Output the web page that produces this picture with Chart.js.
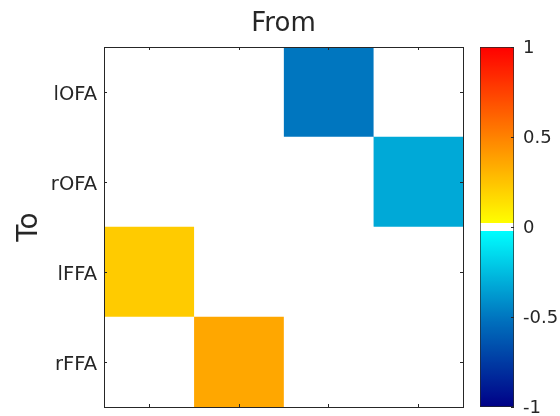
<!DOCTYPE html>
<html>
<head>
<meta charset="utf-8">
<script src="https://cdn.jsdelivr.net/npm/chart.js@4/dist/chart.umd.min.js"></script>
<style>
  html, body { margin: 0; padding: 0; background: #ffffff; }
  #wrap { position: relative; width: 560px; height: 416px; }
  #wrap canvas { position: absolute; left: 0; top: 0; }
</style>
</head>
<body>
<div id="wrap">
  <canvas id="matrix" width="560" height="416"></canvas>
  <canvas id="cbar" width="560" height="416"></canvas>
</div>
<script>
// Regions: rows are targets ("To"), columns are sources ("From"), same order
const regions = ['lOFA', 'rOFA', 'lFFA', 'rFFA'];

// Connection strength into each target region, one entry per source region
const toLOFA = [0, 0, -0.5, 0];
const toROFA = [0, 0, 0, -0.32];
const toLFFA = [0.22, 0, 0, 0];
const toRFFA = [0, 0.36, 0, 0];

const colorTicks = [-1, -0.5, 0, 0.5, 1];
const colorMin = -1;
const colorMax = 1;
const zeroBand = 0.02;   // |value| below this is drawn white

const matrixRows = [toLOFA, toROFA, toLFFA, toRFFA];

const INK = '#262626';
const FONT = 'DejaVu Sans';

function lerp(a, b, t) { return a + (b - a) * t; }
function mix(c1, c2, t) {
  return [0, 1, 2].map(i => Math.round(lerp(c1[i], c2[i], t)));
}
// Diverging map: dark blue -> cyan below zero, white at zero, yellow -> red above
function colorRGB(v) {
  if (Math.abs(v) < zeroBand) return [255, 255, 255];
  if (v > 0) {
    const t = Math.min(1, (v - zeroBand) / (colorMax - zeroBand));
    return mix([255, 255, 0], [255, 0, 0], t);
  }
  const t = Math.min(1, (-v - zeroBand) / (-colorMin - zeroBand));
  if (t <= 0.5) return mix([0, 255, 255], [0, 115, 190], t / 0.5);
  return mix([0, 115, 190], [0, 0, 135], (t - 0.5) / 0.5);
}
function colorCSS(v) {
  const c = colorRGB(v);
  return `rgb(${c[0]},${c[1]},${c[2]})`;
}

// Small inward tick marks on every axis edge
const innerTicks = {
  id: 'innerTicks',
  afterDraw(chart, args, opts) {
    const ctx = chart.ctx;
    const a = chart.chartArea;
    const len = opts.length || 3;
    ctx.save();
    ctx.strokeStyle = opts.color || INK;
    ctx.lineWidth = 1;
    for (const id of (opts.scales || [])) {
      const s = chart.scales[id];
      if (!s) continue;
      s.ticks.forEach((t, i) => {
        const p = Math.round(s.getPixelForTick(i)) + 0.5;
        ctx.beginPath();
        if (s.position === 'bottom') { ctx.moveTo(p, a.bottom); ctx.lineTo(p, a.bottom - len); }
        else if (s.position === 'top') { ctx.moveTo(p, a.top); ctx.lineTo(p, a.top + len); }
        else if (s.position === 'left') { ctx.moveTo(a.left, p); ctx.lineTo(a.left + len, p); }
        else { ctx.moveTo(a.right, p); ctx.lineTo(a.right - len, p); }
        ctx.stroke();
      });
    }
    ctx.restore();
  }
};

// Fix an axis box to an exact size and drop the label overflow padding
function fixSize(w, h) {
  return s => {
    if (w !== null) s.width = w;
    if (h !== null) s.height = h;
    s.paddingTop = 0; s.paddingBottom = 0; s.paddingLeft = 0; s.paddingRight = 0;
  };
}

const colTicks = regions.map((r, i) => i + 0.5);

// One dataset per source column; each cell is a floating bar spanning [col, col+1]
const datasets = regions.map((src, c) => ({
  label: src,
  data: matrixRows.map(() => [c, c + 1]),
  backgroundColor: matrixRows.map(row => colorCSS(row[c])),
  borderWidth: 0,
  barPercentage: 1,
  categoryPercentage: 1,
  grouped: false
}));

const frameBorder = { display: true, color: INK, width: 1, z: 2 };

new Chart(document.getElementById('matrix'), {
  type: 'bar',
  data: { labels: regions, datasets },
  options: {
    indexAxis: 'y',
    responsive: false,
    animation: false,
    events: [],
    layout: { padding: { left: 0, top: 0, right: 97, bottom: 9 } },
    plugins: {
      legend: { display: false },
      tooltip: { enabled: false },
      innerTicks: { scales: ['x', 'x2', 'y', 'y2'], length: 3, color: INK }
    },
    scales: {
      x: {
        type: 'linear', position: 'bottom', min: 0, max: 4,
        afterBuildTicks: s => { s.ticks = colTicks.map(v => ({ value: v })); },
        afterFit: fixSize(null, 0),
        ticks: { display: false },
        grid: { display: false, drawTicks: false },
        border: frameBorder
      },
      x2: {
        type: 'linear', position: 'top', axis: 'x', min: 0, max: 4,
        afterBuildTicks: s => { s.ticks = colTicks.map(v => ({ value: v })); },
        afterFit: fixSize(null, 47),
        ticks: { display: false },
        grid: { display: false, drawTicks: false },
        border: frameBorder,
        title: {
          display: true, text: 'From', color: INK,
          font: { family: FONT, size: 26 }, padding: { top: 9, bottom: 0 }
        }
      },
      y: {
        type: 'category', position: 'left',
        afterFit: fixSize(104, null),
        ticks: { color: INK, font: { family: FONT, size: 19.5 }, padding: 7, labelOffset: 3 },
        grid: { display: false, drawTicks: false },
        border: frameBorder,
        title: {
          display: true, text: 'To', color: INK,
          font: { family: FONT, size: 28 }, padding: { top: 13, bottom: 0 }
        }
      },
      y2: {
        type: 'category', position: 'right', axis: 'y',
        afterFit: fixSize(0, null),
        ticks: { display: false },
        grid: { display: false, drawTicks: false },
        border: frameBorder
      }
    }
  },
  plugins: [innerTicks]
});

// Colour bar: a single floating bar from colorMin to colorMax filled with the map
function colorbarFill(ctx) {
  const chart = ctx.chart;
  if (!chart.chartArea) return '#ffffff';
  const y = chart.scales.y;
  const y0 = y.getPixelForValue(colorMin);
  const y1 = y.getPixelForValue(colorMax);
  const g = chart.ctx.createLinearGradient(0, y0, 0, y1);
  const off = v => (v - colorMin) / (colorMax - colorMin);
  const steps = 100;
  for (let i = 0; i <= steps; i++) {
    const v = lerp(colorMin, -zeroBand, i / steps);
    g.addColorStop(off(v), colorCSS(v - 1e-6));
  }
  g.addColorStop(off(-zeroBand), '#ffffff');
  g.addColorStop(off(zeroBand), '#ffffff');
  for (let i = 0; i <= steps; i++) {
    const v = lerp(zeroBand, colorMax, i / steps);
    g.addColorStop(off(v), colorCSS(v + 1e-6));
  }
  return g;
}

new Chart(document.getElementById('cbar'), {
  type: 'bar',
  data: {
    labels: [''],
    datasets: [{
      data: [[colorMin, colorMax]],
      backgroundColor: colorbarFill,
      borderColor: INK,
      borderWidth: 1,
      borderSkipped: false,
      barPercentage: 1,
      categoryPercentage: 1
    }]
  },
  options: {
    responsive: false,
    animation: false,
    events: [],
    layout: { padding: { left: 480, top: 47, right: 0, bottom: 9 } },
    plugins: {
      legend: { display: false },
      tooltip: { enabled: false },
      innerTicks: { scales: ['y'], length: 3, color: INK }
    },
    scales: {
      x: {
        type: 'category',
        afterFit: fixSize(null, 0),
        ticks: { display: false },
        grid: { display: false, drawTicks: false },
        border: { display: false }
      },
      y: {
        type: 'linear', position: 'right', min: colorMin, max: colorMax,
        afterBuildTicks: s => { s.ticks = colorTicks.map(v => ({ value: v })); },
        afterFit: fixSize(46, null),
        ticks: {
          color: INK, font: { family: FONT, size: 18 }, padding: 9, labelOffset: 1,
          callback: v => String(v)
        },
        grid: { display: false, drawTicks: false },
        border: { display: false }
      }
    }
  },
  plugins: [innerTicks]
});
</script>
</body>
</html>
